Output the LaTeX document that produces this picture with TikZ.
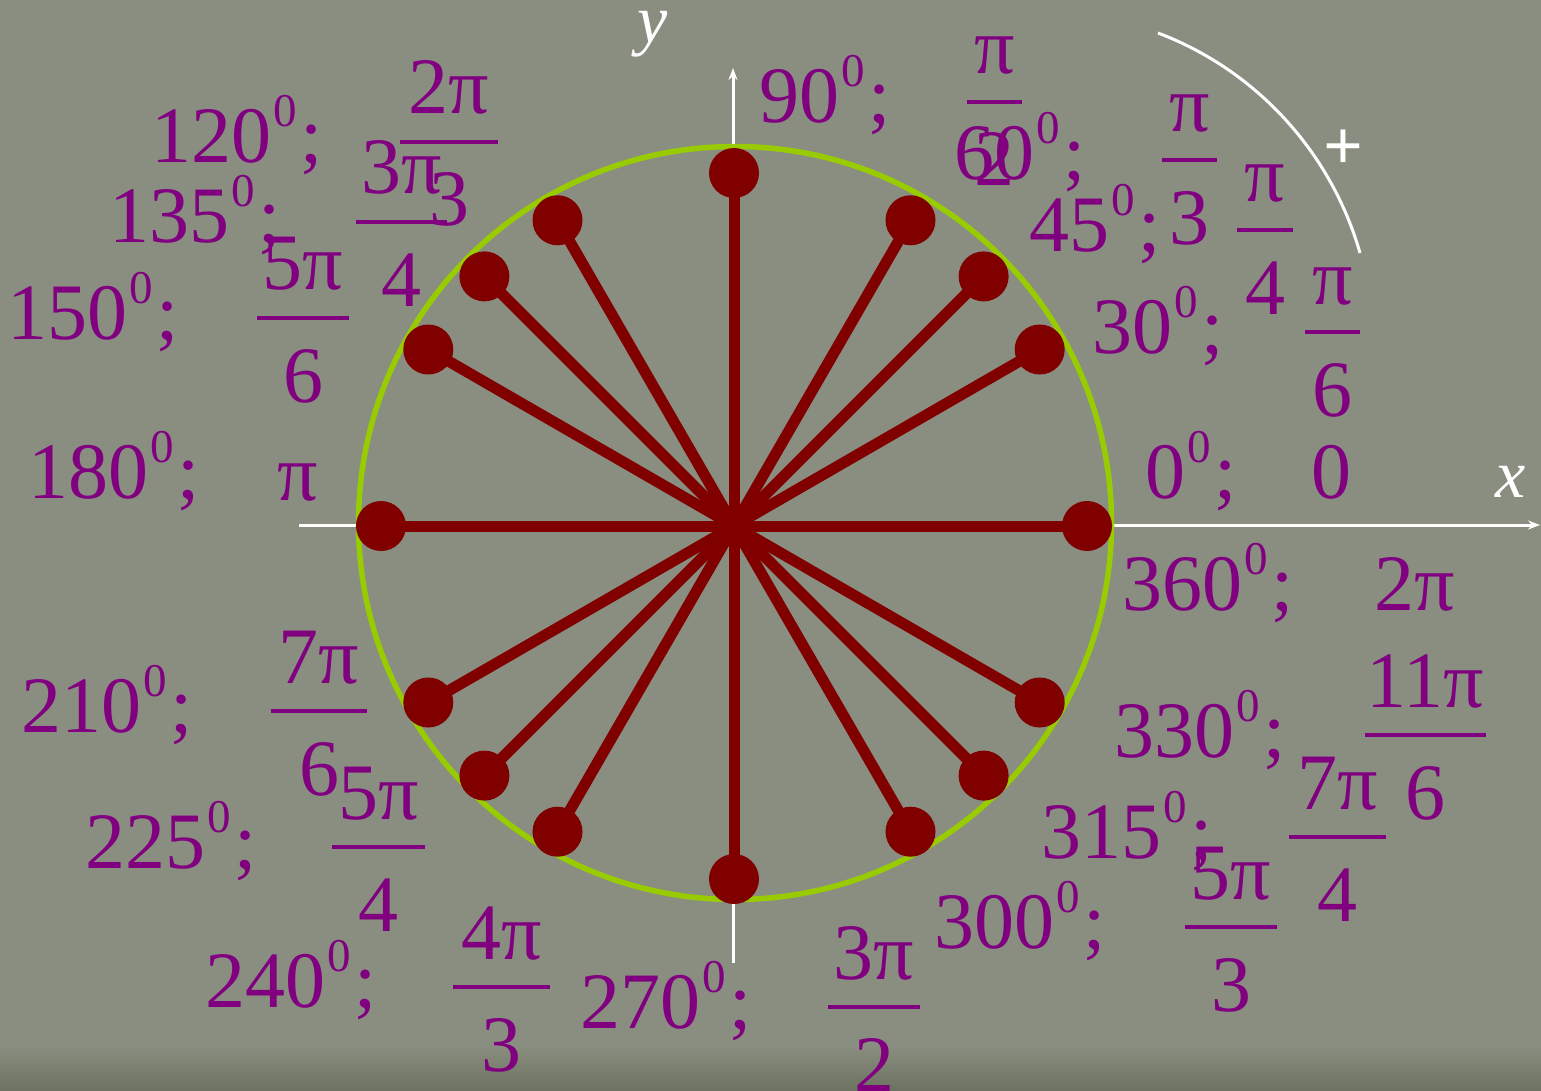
\documentclass[tikz,border=0pt]{standalone}
\usepackage{fontspec}
\setmainfont{Liberation Serif}
\usetikzlibrary{arrows.meta,calc}
\definecolor{bgc}{RGB}{138,142,128}
\definecolor{bgdark}{RGB}{108,114,96}
\definecolor{purp}{RGB}{128,0,128}
\definecolor{ringc}{RGB}{153,204,0}
\definecolor{spokec}{RGB}{128,0,0}
\tikzset{
  lbl/.style={text=purp, font=\fontsize{80}{96}\selectfont, inner sep=0pt},
  fbar/.style={draw=purp, line width=4.5pt},
  axis/.style={draw=white, line width=3pt},
  spk/.style={draw=spokec, line width=11pt},
  dotn/.style={circle, fill=spokec, minimum size=50pt, inner sep=0pt},
  axlbl/.style={text=white, font=\fontsize{68}{80}\selectfont\itshape, inner sep=0pt},
}
\newcommand{\supz}{\hspace{2pt}\raisebox{36pt}{\fontsize{47}{47}\selectfont 0}\hspace{4pt};}
\newcommand{\dlab}[4]{\node[lbl,anchor=base west] (#1) at (#2,#3) {#4\supz};}
\newcommand{\flab}[6]{%
  \node[lbl,anchor=base] (#1n) at (#2,#3-28) {#4};
  \coordinate (#1a) at (#2-#6,#3);
  \coordinate (#1b) at (#2+#6,#3);
  \draw[fbar] (#1a) -- (#1b);
  \node[lbl,anchor=base] (#1d) at (#2,#3+84) {#5};}
\begin{document}
\begin{tikzpicture}[x=1pt,y=-1pt]
\useasboundingbox (0,0) rectangle (1541,1091);
\fill[bgc] (0,0) rectangle (1541,1091);
\shade[top color=bgc, bottom color=bgdark] (0,1045) rectangle (1541,1091);

% axes
\coordinate (xs) at (299,525);
\coordinate (xe) at (1540,525);
\coordinate (ys) at (733,963);
\coordinate (ye) at (733,68);
\draw[axis,-{Stealth[length=12pt,width=9pt]}] (xs) -- (xe);
\draw[axis,-{Stealth[length=12pt,width=9pt]}] (ys) -- (ye);
\node[axlbl,anchor=base] (xl) at (1511,497) {x};
\node[axlbl,anchor=base] (yl) at (653,43) {y};

% unit circle
\coordinate (C) at (735,523);
\draw[draw=ringc, line width=5.5pt] (C) circle[radius=376.5pt];

% positive direction arc
\coordinate (arcA) at (1158,33);
\coordinate (arcB) at (1360,253);
\draw[white, line width=3pt] (arcA) .. controls (1256,70) and (1331,152) .. (arcB);
\node[text=white, font=\fontsize{70}{80}\selectfont\bfseries, inner sep=0pt] (plus) at (1343,150) {+};

% spokes and dots
\coordinate (O) at (734,526);
\foreach \a in {0,30,45,60,90,120,135,150,180,210,225,240,270,300,315,330}{
  \coordinate (p\a) at ($(O)+(-\a:353)$);
}
\foreach \a in {0,30,45,60,90,120,135,150,180,210,225,240,270,300,315,330}{
  \draw[spk] (O) -- (p\a);
}
\foreach \a in {0,30,45,60,90,120,135,150,180,210,225,240,270,300,315,330}{
  \node[dotn] (d\a) at (p\a) {};
}

% degree labels
\dlab{t120}{151}{163}{120}
\dlab{t135}{109}{243}{135}
\dlab{t150}{7}{339}{150}
\dlab{t180}{28}{498}{180}
\dlab{t210}{21}{732}{210}
\dlab{t225}{85}{868}{225}
\dlab{t240}{205}{1007}{240}
\dlab{t270}{580}{1028}{270}
\dlab{t300}{934}{948}{300}
\dlab{t315}{1041}{858}{315}
\dlab{t330}{1114}{757}{330}
\dlab{t360}{1122}{610}{360}
\dlab{t0}{1145}{498}{0}
\dlab{t30}{1092}{353}{30}
\dlab{t45}{1029}{252}{45}
\dlab{t60}{954}{180}{60}
\dlab{t90}{759}{123}{90}

% radian labels
\flab{f120}{449}{142}{2π}{3}{49}
\flab{f135}{401.5}{222}{3π}{4}{45.5}
\flab{f150}{303}{318}{5π}{6}{46}
\node[lbl,anchor=base] (f180) at (298,500) {π};
\flab{f210}{319}{711}{7π}{6}{48}
\flab{f225}{378.5}{847}{5π}{4}{46.5}
\flab{f240}{501.5}{987}{4π}{3}{48.5}
\flab{f270}{874}{1007}{3π}{2}{46}
\flab{f300}{1231}{927}{5π}{3}{46}
\flab{f315}{1337.5}{837}{7π}{4}{48.5}
\flab{f330}{1425.5}{735}{11π}{6}{60.5}
\node[lbl,anchor=base] (f360) at (1415,610) {2π};
\node[lbl,anchor=base] (f0) at (1331.5,498) {0};
\flab{f30}{1332.5}{332}{π}{6}{27.5}
\flab{f45}{1265}{230}{π}{4}{28}
\flab{f60}{1189.5}{160}{π}{3}{27.5}
\flab{f90}{994.5}{102}{π}{2}{27.5}
\end{tikzpicture}
\end{document}
